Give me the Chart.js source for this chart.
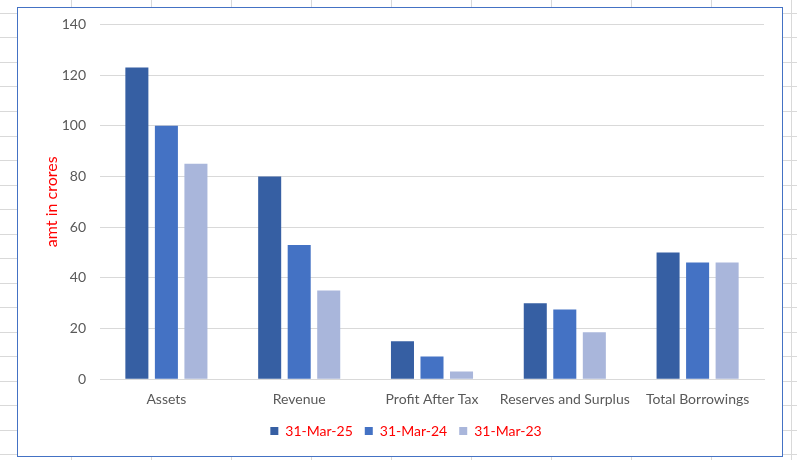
<!DOCTYPE html>
<html>
<head>
<meta charset="utf-8">
<script src="https://cdn.jsdelivr.net/npm/chart.js@4/dist/chart.umd.min.js"></script>
<style>
    html, body { margin: 0; padding: 0; }
    body {
        width: 797px; height: 460px; overflow: hidden; position: relative;
        background-color: #fff;
        background-image:
            repeating-linear-gradient(to right, transparent 0, transparent 71px, #d9d9d9 71px, #d9d9d9 72px, transparent 72px, transparent 80px),
            repeating-linear-gradient(to bottom, transparent 0, transparent 13px, #d9d9d9 13px, #d9d9d9 14px, transparent 14px, transparent 24.5px);
        background-position: 0 0, 0 0;
    }
    #box {
        position: absolute; left: 17px; top: 7px; width: 764px; height: 448px;
        border: 1px solid #4472c4; background: #fff; overflow: hidden;
    }
    #box canvas { display: block; margin-top: -6px; }
</style>
</head>
<body>
<div id="box"><canvas id="finChart" width="764" height="454"></canvas></div>
<script>
const categories = ['Assets', 'Revenue', 'Profit After Tax', 'Reserves and Surplus', 'Total Borrowings'];
const seriesNames = ['31-Mar-25', '31-Mar-24', '31-Mar-23'];
const mar25 = [123, 80, 15, 30, 50];
const mar24 = [100, 53, 9, 27.5, 46];
const mar23 = [85, 35, 3, 18.5, 46];
const seriesColors = ['#365fa3', '#4472c4', '#a9b6db'];

const FONT = 'Lato, Carlito, Calibri, sans-serif';

new Chart(document.getElementById('finChart'), {
    type: 'bar',
    data: {
        labels: categories,
        datasets: [mar25, mar24, mar23].map((vals, i) => ({
            label: seriesNames[i],
            data: vals,
            backgroundColor: seriesColors[i],
            borderWidth: 0,
            categoryPercentage: 0.667,
            barPercentage: 0.78
        }))
    },
    options: {
        responsive: false,
        animation: false,
        layout: { padding: { left: 30, right: 18, top: 3, bottom: 8 } },
        plugins: {
            legend: {
                position: 'bottom',
                labels: {
                    color: '#ff0000',
                    boxWidth: 8, boxHeight: 8,
                    padding: 12,
                    font: { family: FONT, size: 14 }
                }
            },
            tooltip: { enabled: false }
        },
        scales: {
            y: {
                min: 0, max: 140,
                ticks: { stepSize: 20, color: '#595959', padding: 14, font: { family: FONT, size: 14 } },
                grid: { color: '#d9d9d9', drawTicks: false },
                border: { display: false },
                title: { display: true, text: 'amt in crores', color: '#ff0000', font: { family: FONT, size: 16 }, padding: { top: -6, bottom: 0 } },
                afterFit: s => { s.width = 52; }
            },
            x: {
                ticks: { color: '#595959', padding: 4, minRotation: 0, maxRotation: 0, autoSkip: false, font: { family: FONT, size: 14 } },
                grid: { display: false },
                border: { display: true, color: '#d9d9d9' }
            }
        }
    }
});
</script>
</body>
</html>
